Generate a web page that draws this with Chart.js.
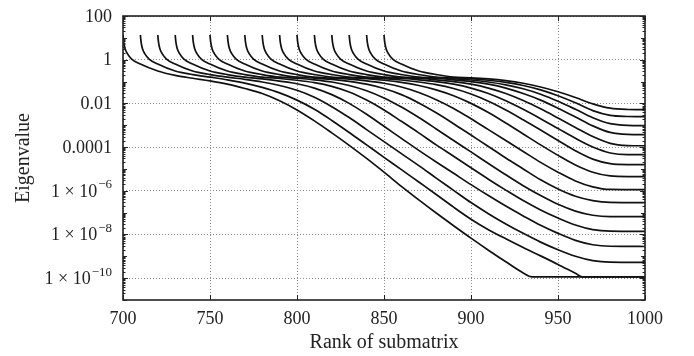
<!DOCTYPE html>
<html>
<head>
<meta charset="utf-8">
<script src="https://cdn.jsdelivr.net/npm/chart.js@4.4.1/dist/chart.umd.min.js"></script>
<style>
  html, body { margin: 0; padding: 0; background: #fff; }
  #wrap { width: 694px; height: 356px; }
</style>
</head>
<body>
<div id="wrap"><canvas id="grafico" width="694" height="356"></canvas></div>
<script>
// ranks (x) and log10 of the eigenvalue (y) for each curve
const rank00 = [700, 700.4, 701.2, 702.5, 705, 710, 720, 730, 740, 750, 760, 770, 780, 790, 800, 810, 820, 830, 840, 850, 860, 870, 880, 890, 900, 910, 920, 930, 935, 1000]
const logEig00 = [1.13, 0.8, 0.5, 0.28, 0.03, -0.2, -0.52, -0.72, -0.85, -0.97, -1.12, -1.32, -1.55, -1.88, -2.3, -2.8, -3.35, -3.92, -4.52, -5.15, -5.8, -6.42, -7.02, -7.6, -8.17, -8.72, -9.25, -9.76, -9.94, -9.94]

const rank01 = [710, 710.4, 711.2, 712.5, 715, 720, 730, 740, 750, 760, 770, 780, 790, 800, 810, 820, 830, 840, 850, 860, 870, 880, 890, 900, 910, 920, 930, 940, 950, 960, 964, 1000]
const logEig01 = [1.13, 0.8, 0.5, 0.28, 0.03, -0.2, -0.52, -0.68, -0.8, -0.92, -1.07, -1.27, -1.52, -1.85, -2.27, -2.78, -3.33, -3.9, -4.47, -5.03, -5.6, -6.17, -6.75, -7.3, -7.78, -8.2, -8.6, -8.98, -9.37, -9.78, -9.94, -9.94]

const rank02 = [720, 720.4, 721.2, 722.5, 725, 730, 740, 750, 760, 770, 780, 790, 800, 810, 820, 830, 840, 850, 860, 870, 880, 890, 900, 910, 920, 930, 940, 950, 960, 970, 980, 1000]
const logEig02 = [1.13, 0.8, 0.5, 0.28, 0.03, -0.2, -0.52, -0.68, -0.8, -0.9, -1.02, -1.18, -1.4, -1.72, -2.15, -2.65, -3.2, -3.75, -4.3, -4.85, -5.42, -5.98, -6.54, -7.05, -7.52, -7.95, -8.35, -8.7, -9.0, -9.2, -9.27, -9.28]

const rank03 = [730, 730.4, 731.2, 732.5, 735, 740, 750, 760, 770, 780, 790, 800, 810, 820, 830, 840, 850, 860, 870, 880, 890, 900, 910, 920, 930, 940, 950, 960, 970, 980, 1000]
const logEig03 = [1.13, 0.8, 0.5, 0.28, 0.03, -0.2, -0.52, -0.68, -0.8, -0.88, -0.98, -1.1, -1.3, -1.6, -2.0, -2.5, -3.05, -3.6, -4.15, -4.68, -5.2, -5.72, -6.22, -6.7, -7.15, -7.58, -7.95, -8.27, -8.47, -8.54, -8.55]

const rank04 = [740, 740.4, 741.2, 742.5, 745, 750, 760, 770, 780, 790, 800, 810, 820, 830, 840, 850, 860, 870, 880, 890, 900, 910, 920, 930, 940, 950, 960, 970, 980, 1000]
const logEig04 = [1.13, 0.8, 0.5, 0.28, 0.03, -0.2, -0.52, -0.68, -0.8, -0.86, -0.94, -1.05, -1.22, -1.48, -1.85, -2.3, -2.82, -3.35, -3.9, -4.42, -4.95, -5.47, -5.97, -6.45, -6.88, -7.25, -7.57, -7.78, -7.85, -7.86]

const rank05 = [750, 750.4, 751.2, 752.5, 755, 760, 770, 780, 790, 800, 810, 820, 830, 840, 850, 860, 870, 880, 890, 900, 910, 920, 930, 940, 950, 960, 970, 980, 1000]
const logEig05 = [1.13, 0.8, 0.5, 0.28, 0.03, -0.2, -0.52, -0.68, -0.8, -0.85, -0.92, -1.02, -1.18, -1.42, -1.75, -2.17, -2.65, -3.17, -3.7, -4.22, -4.75, -5.27, -5.77, -6.22, -6.62, -6.93, -7.12, -7.18, -7.18]

const rank06 = [760, 760.4, 761.2, 762.5, 765, 770, 780, 790, 800, 810, 820, 830, 840, 850, 860, 870, 880, 890, 900, 910, 920, 930, 940, 950, 960, 970, 980, 1000]
const logEig06 = [1.13, 0.8, 0.5, 0.28, 0.03, -0.2, -0.52, -0.68, -0.8, -0.84, -0.9, -0.99, -1.12, -1.32, -1.6, -1.98, -2.43, -2.93, -3.45, -3.97, -4.5, -5.0, -5.5, -5.92, -6.25, -6.45, -6.53, -6.54]

const rank07 = [770, 770.4, 771.2, 772.5, 775, 780, 790, 800, 810, 820, 830, 840, 850, 860, 870, 880, 890, 900, 910, 920, 930, 940, 950, 960, 970, 980, 1000]
const logEig07 = [1.13, 0.8, 0.5, 0.28, 0.03, -0.2, -0.52, -0.68, -0.8, -0.84, -0.89, -0.97, -1.08, -1.25, -1.5, -1.83, -2.23, -2.7, -3.2, -3.7, -4.2, -4.7, -5.15, -5.55, -5.82, -5.94, -5.95]

const rank08 = [780, 780.4, 781.2, 782.5, 785, 790, 800, 810, 820, 830, 840, 850, 860, 870, 880, 890, 900, 910, 920, 930, 940, 950, 960, 970, 980, 990, 1000]
const logEig08 = [1.13, 0.8, 0.5, 0.28, 0.03, -0.2, -0.52, -0.68, -0.8, -0.83, -0.87, -0.94, -1.04, -1.18, -1.38, -1.65, -2.0, -2.42, -2.9, -3.4, -3.9, -4.38, -4.82, -5.15, -5.32, -5.35, -5.35]

const rank09 = [790, 790.4, 791.2, 792.5, 795, 800, 810, 820, 830, 840, 850, 860, 870, 880, 890, 900, 910, 920, 930, 940, 950, 960, 970, 980, 990, 1000]
const logEig09 = [1.13, 0.8, 0.5, 0.28, 0.03, -0.2, -0.52, -0.68, -0.8, -0.83, -0.87, -0.93, -1.02, -1.14, -1.32, -1.57, -1.9, -2.3, -2.75, -3.22, -3.7, -4.17, -4.55, -4.76, -4.8, -4.8]

const rank10 = [800, 800.4, 801.2, 802.5, 805, 810, 820, 830, 840, 850, 860, 870, 880, 890, 900, 910, 920, 930, 940, 950, 960, 970, 980, 990, 1000]
const logEig10 = [1.13, 0.8, 0.5, 0.28, 0.03, -0.2, -0.52, -0.68, -0.8, -0.82, -0.86, -0.92, -1.0, -1.12, -1.3, -1.55, -1.88, -2.27, -2.7, -3.15, -3.6, -4.0, -4.27, -4.35, -4.35]

const rank11 = [810, 810.4, 811.2, 812.5, 815, 820, 830, 840, 850, 860, 870, 880, 890, 900, 910, 920, 930, 940, 950, 960, 970, 980, 990, 1000]
const logEig11 = [1.13, 0.8, 0.5, 0.28, 0.03, -0.2, -0.52, -0.68, -0.8, -0.82, -0.86, -0.92, -1.0, -1.12, -1.3, -1.55, -1.87, -2.25, -2.67, -3.1, -3.52, -3.83, -3.93, -3.94]

const rank12 = [820, 820.4, 821.2, 822.5, 825, 830, 840, 850, 860, 870, 880, 890, 900, 910, 920, 930, 940, 950, 960, 970, 980, 990, 1000]
const logEig12 = [1.13, 0.8, 0.5, 0.28, 0.03, -0.2, -0.52, -0.68, -0.8, -0.82, -0.86, -0.92, -1.0, -1.12, -1.3, -1.55, -1.85, -2.22, -2.62, -3.03, -3.33, -3.42, -3.43]

const rank13 = [830, 830.4, 831.2, 832.5, 835, 840, 850, 860, 870, 880, 890, 900, 910, 920, 930, 940, 950, 960, 970, 980, 990, 1000]
const logEig13 = [1.13, 0.8, 0.5, 0.28, 0.03, -0.2, -0.52, -0.68, -0.8, -0.83, -0.87, -0.93, -1.02, -1.15, -1.33, -1.58, -1.9, -2.27, -2.66, -2.93, -3.01, -3.02]

const rank14 = [840, 840.4, 841.2, 842.5, 845, 850, 860, 870, 880, 890, 900, 910, 920, 930, 940, 950, 960, 970, 980, 990, 1000]
const logEig14 = [1.13, 0.8, 0.5, 0.28, 0.03, -0.2, -0.52, -0.68, -0.8, -0.83, -0.87, -0.94, -1.04, -1.18, -1.38, -1.65, -1.97, -2.33, -2.55, -2.6, -2.61]

const rank15 = [850, 850.4, 851.2, 852.5, 855, 860, 870, 880, 890, 900, 910, 920, 930, 940, 950, 960, 970, 980, 990, 1000]
const logEig15 = [1.13, 0.8, 0.5, 0.28, 0.03, -0.2, -0.52, -0.68, -0.8, -0.83, -0.88, -0.96, -1.08, -1.25, -1.47, -1.73, -2.02, -2.22, -2.28, -2.29]

const ranks = [rank00, rank01, rank02, rank03, rank04, rank05, rank06, rank07, rank08, rank09, rank10, rank11, rank12, rank13, rank14, rank15]
const logEigs = [logEig00, logEig01, logEig02, logEig03, logEig04, logEig05, logEig06, logEig07, logEig08, logEig09, logEig10, logEig11, logEig12, logEig13, logEig14, logEig15]

const xTicks = [700, 750, 800, 850, 900, 950, 1000]
const yTickVals = [1e-10, 1e-8, 1e-6, 1e-4, 1e-2, 1, 100]
// label = base text + optional superscript
const yTickBase = ['1 × 10', '1 × 10', '1 × 10', '0.0001', '0.01', '1', '100']
const yTickExp = ['−10', '−8', '−6', '', '', '', '']

const familia = "'Liberation Serif', 'DejaVu Serif', serif"
const fonte = { family: familia, size: 18 }
const fonteTitulo = { family: familia, size: 20 }

let datasets = []
for (let i = 0; i < ranks.length; i++) {
    let pontos = []
    for (let j = 0; j < ranks[i].length; j++) {
        pontos.push({ x: ranks[i][j], y: Math.pow(10, logEigs[i][j]) })
    }
    datasets.push({
        data: pontos,
        borderColor: '#111',
        borderWidth: 1.7,
        pointRadius: 0,
        fill: false,
        cubicInterpolationMode: 'monotone',
    })
}

// frame round the plot with inward ticks, and the y labels with real superscripts
const moldura = {
    id: 'moldura',
    afterDraw(chart) {
        const ctx = chart.ctx
        const a = chart.chartArea
        const sx = chart.scales.x
        const sy = chart.scales.y
        ctx.save()
        ctx.strokeStyle = '#222'
        ctx.lineWidth = 1
        ctx.beginPath()
        for (const v of xTicks) {
            const px = Math.round(sx.getPixelForValue(v)) + 0.5
            ctx.moveTo(px, a.bottom); ctx.lineTo(px, a.bottom - 5)
            ctx.moveTo(px, a.top); ctx.lineTo(px, a.top + 5)
        }
        for (let n = -11; n <= 2; n++) {
            for (let m = 1; m <= 9; m++) {
                const v = m * Math.pow(10, n)
                if (v < 1e-11 || v > 100) continue
                const py = Math.round(sy.getPixelForValue(v)) + 0.5
                let len = m === 1 ? (n % 2 === 0 ? 5 : 4) : 2.5
                ctx.moveTo(a.left, py); ctx.lineTo(a.left + len, py)
                ctx.moveTo(a.right, py); ctx.lineTo(a.right - len, py)
            }
        }
        ctx.stroke()
        ctx.lineWidth = 1.6
        ctx.strokeRect(a.left, a.top, a.right - a.left, a.bottom - a.top)

        ctx.fillStyle = '#222'
        ctx.textBaseline = 'middle'
        ctx.textAlign = 'left'
        const direita = a.left - 11
        for (let i = 0; i < yTickVals.length; i++) {
            const py = sy.getPixelForValue(yTickVals[i])
            ctx.font = '18px ' + familia
            const wBase = ctx.measureText(yTickBase[i]).width
            ctx.font = '13px ' + familia
            const wExp = yTickExp[i] ? ctx.measureText(yTickExp[i]).width + 1 : 0
            const x0 = direita - wBase - wExp
            ctx.font = '18px ' + familia
            ctx.fillText(yTickBase[i], x0, py + 1)
            if (yTickExp[i]) {
                ctx.font = '13px ' + familia
                ctx.fillText(yTickExp[i], x0 + wBase + 1, py - 6)
            }
        }
        ctx.restore()
    }
}

new Chart(document.getElementById('grafico').getContext('2d'), {
    type: 'line',
    data: { datasets },
    options: {
        responsive: false,
        animation: false,
        layout: { padding: { left: 0, right: 49, top: 16, bottom: 0 } },
        plugins: { legend: { display: false }, tooltip: { enabled: false } },
        scales: {
            x: {
                type: 'linear',
                min: 700,
                max: 1000,
                afterFit: (scale) => { scale.height = 56 },
                afterBuildTicks: (scale) => { scale.ticks = xTicks.map(v => ({ value: v })) },
                ticks: { font: fonte, color: '#222', padding: 8, maxRotation: 0, callback: (v) => v },
                grid: { color: '#8a8a8a', drawTicks: false, lineWidth: 1 },
                border: { display: false, dash: [1, 2] },
                title: { display: true, text: 'Rank of submatrix', font: fonteTitulo, color: '#222', padding: { top: 0, bottom: 1 } },
            },
            y: {
                type: 'logarithmic',
                min: 1e-11,
                max: 100,
                afterFit: (scale) => { scale.width = 123 },
                afterBuildTicks: (scale) => { scale.ticks = yTickVals.map(v => ({ value: v })) },
                ticks: { display: false },
                grid: { color: '#8a8a8a', drawTicks: false, lineWidth: 1 },
                border: { display: false, dash: [1, 2] },
                title: { display: true, text: 'Eigenvalue', font: fonteTitulo, color: '#222', padding: { top: 12, bottom: 0 } },
            },
        },
    },
    plugins: [moldura],
})
</script>
</body>
</html>
